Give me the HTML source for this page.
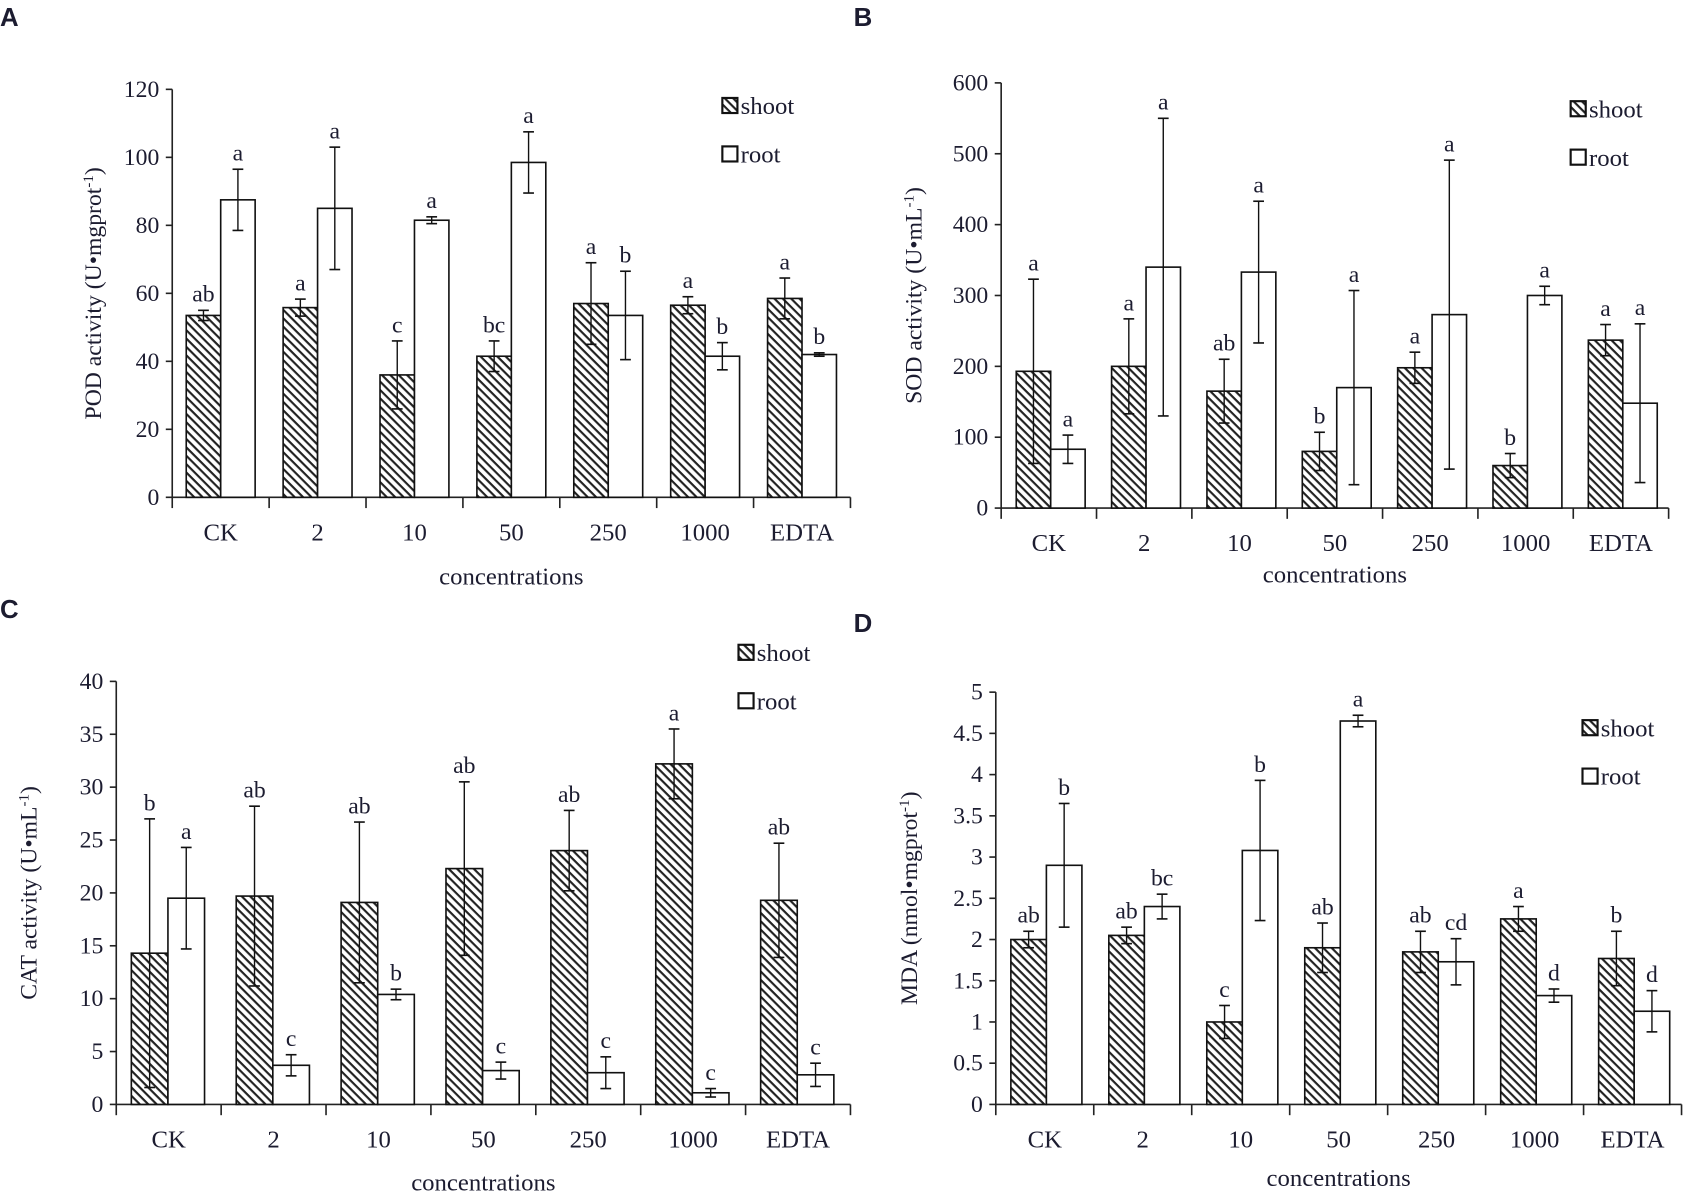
<!DOCTYPE html>
<html><head><meta charset="utf-8"><style>
html,body{margin:0;padding:0;background:#fff;}
svg{display:block}
text{font-family:"Liberation Serif",serif;fill:#1c1c30}
</style></head><body>
<svg id="s" width="1688" height="1197" viewBox="0 0 1568 1112" preserveAspectRatio="none" xmlns="http://www.w3.org/2000/svg">
<defs>
<pattern id="h" patternUnits="userSpaceOnUse" width="5.5" height="5.5" patternTransform="rotate(45)">
<rect width="5.5" height="5.5" fill="#fff"/><rect x="0" y="0" width="5.5" height="2" fill="#222"/>
</pattern>
</defs>
<text x="0" y="24" style="font-family:'Liberation Sans',sans-serif;font-weight:bold;font-size:24px" fill="#000">A</text>
<text x="793" y="24" style="font-family:'Liberation Sans',sans-serif;font-weight:bold;font-size:24px" fill="#000">B</text>
<text x="0" y="574" style="font-family:'Liberation Sans',sans-serif;font-weight:bold;font-size:24px" fill="#000">C</text>
<text x="793" y="587" style="font-family:'Liberation Sans',sans-serif;font-weight:bold;font-size:24px" fill="#000">D</text>
</svg>
<script>
const S=document.getElementById('s');const NS='http://www.w3.org/2000/svg';
function el(t,a,txt){const e=document.createElementNS(NS,t);for(const k in a)e.setAttribute(k,a[k]);if(txt!==undefined)e.textContent=txt;S.appendChild(e);return e;}
const cats=["CK","2","10","50","250","1000","EDTA"];
function panel(p){
 const sc=(p.y0-p.yTop)/p.max;const Y=v=>p.y0-v*sc;
 const gw=(p.x1-p.x0)/7;
 el('line',{x1:p.x0,y1:p.yTop,x2:p.x0,y2:p.y0,stroke:'#222','stroke-width':1.5});
 el('line',{x1:p.x0,y1:p.y0,x2:p.x1,y2:p.y0,stroke:'#222','stroke-width':1.5});
 for(let v=0;v<=p.max+1e-9;v+=p.step){const y=Y(v);
  el('line',{x1:p.x0-6,y1:y,x2:p.x0,y2:y,stroke:'#222','stroke-width':1.5});
  el('text',{x:p.x0-12,y:y+7,'text-anchor':'end','font-size':22},String(Math.round(v*10)/10));}
 for(let i=0;i<=7;i++){const x=p.x0+i*gw;el('line',{x1:x,y1:p.y0,x2:x,y2:p.y0+10,stroke:'#222','stroke-width':1.5});}
 for(let i=0;i<7;i++){
  const cx=p.x0+i*gw+gw/2;
  el('text',{x:cx,y:p.y0+40,'text-anchor':'middle','font-size':23},cats[i]);
  const bx=p.x0+i*gw+p.off;
  [[p.s,p.se,p.sl,'url(#h)'],[p.r,p.re,p.rl,'#fff']].forEach((d,j)=>{
   const x=bx+j*p.bw,v=d[0][i],e=d[1][i];
   el('rect',{x:x,y:Y(v),width:p.bw,height:p.y0-Y(v),fill:d[3],stroke:'#111','stroke-width':1.5});
   const mx=x+p.bw/2,t=Y(v+e),b=Y(Math.max(0,v-e));
   el('line',{x1:mx,y1:t,x2:mx,y2:b,stroke:'#111','stroke-width':1.3});
   el('line',{x1:mx-5,y1:t,x2:mx+5,y2:t,stroke:'#111','stroke-width':1.5});
   el('line',{x1:mx-5,y1:b,x2:mx+5,y2:b,stroke:'#111','stroke-width':1.5});
   el('text',{x:mx,y:t-8,'text-anchor':'middle','font-size':22},d[2][i]);
  });
 }
 el('text',{x:(p.x0+p.x1)/2,y:p.cy,'text-anchor':'middle','font-size':23},'concentrations');
 const t=el('text',{x:0,y:0,'text-anchor':'middle','font-size':22,transform:`translate(${p.lx},${(p.yTop+p.y0)/2}) rotate(-90)`});
 t.innerHTML=p.lab;
 el('rect',{x:p.gx,y:p.gy-15,width:14,height:14,fill:'url(#h)',stroke:'#111','stroke-width':2});
 el('text',{x:p.gx+17,y:p.gy,'font-size':23},'shoot');
 el('rect',{x:p.gx,y:p.gy+30,width:14,height:14,fill:'#fff',stroke:'#111','stroke-width':2});
 el('text',{x:p.gx+17,y:p.gy+45,'font-size':23},'root');
}
panel({x0:160,x1:790,yTop:83,y0:462,max:120,step:20,off:13,bw:32,
 s:[53.5,55.8,36,41.5,57,56.5,58.5],se:[1.5,2.5,10,4.5,12,2.5,6],sl:["ab","a","c","bc","a","a","a"],
 r:[87.5,85,81.5,98.5,53.5,41.5,42],re:[9,18,1,9,13,4,0.5],rl:["a","a","a","a","b","b","b"],
 cy:543,lx:94,lab:'POD activity (U•mgprot<tspan baseline-shift="super" font-size="14">-1</tspan>)',gx:671,gy:106});
panel({x0:930,x1:1550,yTop:77,y0:472,max:600,step:100,off:14,bw:32,
 s:[193,200,165,80,198,60,237],se:[130,67,45,27,22,17,22],sl:["a","a","ab","b","a","b","a"],
 r:[83,340,333,170,273,300,148],re:[20,210,100,137,218,13,112],rl:["a","a","a","a","a","a","a"],
 cy:541,lx:856,lab:'SOD activity (U•mL<tspan baseline-shift="super" font-size="14">-1</tspan>)',gx:1459,gy:109});
panel({x0:108,x1:790,yTop:633,y0:1026,max:40,step:5,off:14,bw:34,
 s:[14.3,19.7,19.1,22.3,24,32.2,19.3],se:[12.7,8.5,7.6,8.2,3.8,3.3,5.4],sl:["b","ab","ab","ab","ab","a","ab"],
 r:[19.5,3.7,10.4,3.2,3,1.1,2.8],re:[4.8,1,0.5,0.8,1.5,0.4,1.1],rl:["a","c","b","c","c","c","c"],
 cy:1106,lx:34,lab:'CAT activity (U•mL<tspan baseline-shift="super" font-size="14">-1</tspan>)',gx:686,gy:614});
panel({x0:925,x1:1562,yTop:643,y0:1026,max:5,step:0.5,off:14,bw:33,
 s:[2,2.05,1,1.9,1.85,2.25,1.77],se:[.1,.1,.2,.3,.25,.15,.33],sl:["ab","ab","c","ab","ab","a","b"],
 r:[2.9,2.4,3.08,4.65,1.73,1.32,1.13],re:[.75,.15,.85,.07,.28,.08,.25],rl:["b","bc","b","a","cd","d","d"],
 cy:1102,lx:852,lab:'MDA (nmol•mgprot<tspan baseline-shift="super" font-size="14">-1</tspan>)',gx:1470,gy:684});
</script>
</body></html>
